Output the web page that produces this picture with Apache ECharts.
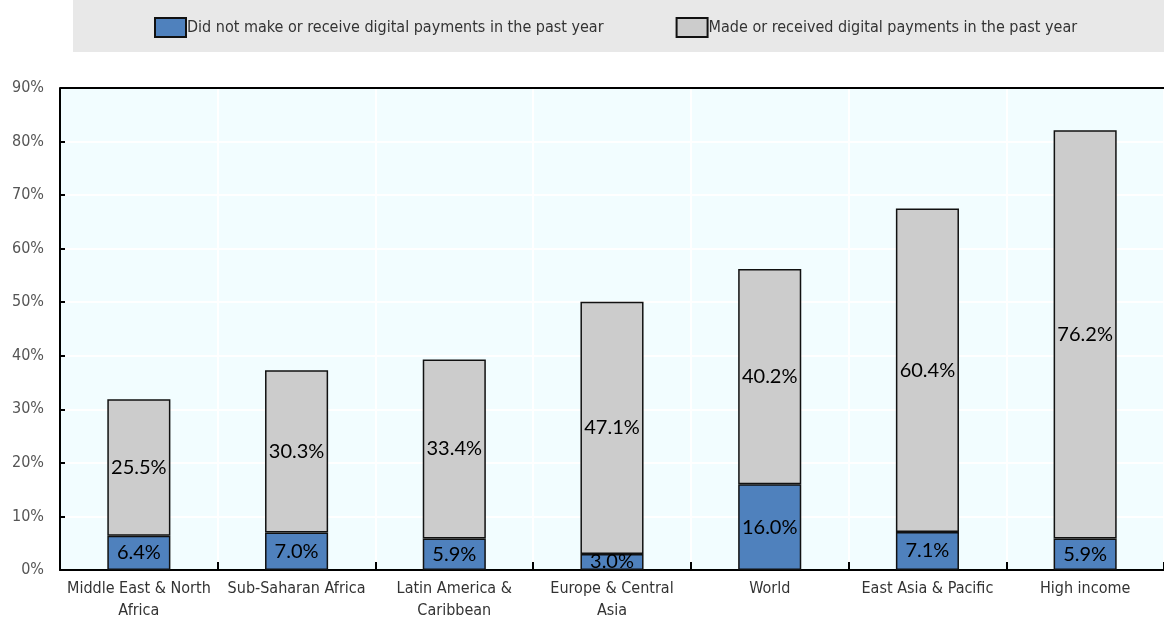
<!DOCTYPE html>
<html>
<head>
<meta charset="utf-8">
<script src="https://cdn.jsdelivr.net/npm/echarts@6/dist/echarts.min.js"></script>
<style>
  html, body { margin: 0; padding: 0; background: #ffffff; }
  #chart { width: 1164px; height: 622px; }
</style>
</head>
<body>
<div id="chart"></div>
<script>
// Regions (x-axis categories)
const regions = [
  'Middle East & North\nAfrica',
  'Sub-Saharan Africa',
  'Latin America &\nCaribbean',
  'Europe & Central\nAsia',
  'World',
  'East Asia & Pacific',
  'High income'
];

// Share of adults (%), stacked
const noDigitalPayments = [6.4, 7.0, 5.9, 3.0, 16.0, 7.1, 5.9];
const digitalPayments = [25.5, 30.3, 33.4, 47.1, 40.2, 60.4, 76.2];

const seriesNames = [
  'Did not make or receive digital payments in the past year',
  'Made or received digital payments in the past year'
];

const narrow = "'Liberation Sans Narrow', 'Arial Narrow', 'DejaVu Sans Condensed', sans-serif";
const labelFont = "Lato, 'Open Sans', sans-serif";

const chart = echarts.init(document.getElementById('chart'), null, { renderer: 'canvas' });

const barLabel = {
  show: true,
  position: 'inside',
  formatter: p => p.value.toFixed(1) + '%',
  fontFamily: labelFont,
  fontSize: 20,
  color: '#000000'
};

chart.setOption({
  animation: false,
  legend: {
    top: 17,
    left: 154,
    padding: 0,
    itemWidth: 31,
    itemHeight: 19,
    itemGap: 72,
    icon: 'rect',
    textStyle: { fontFamily: narrow, fontSize: 16, color: '#333333', padding: [0, 0, 0, -4] },
    data: seriesNames
  },
  grid: {
    left: 60, right: 0, top: 88, bottom: 49,
    show: true,
    backgroundColor: '#F2FDFF',
    borderWidth: 0
  },
  xAxis: {
    type: 'category',
    data: regions,
    axisLine: { show: true, lineStyle: { color: '#000000', width: 2 } },
    axisTick: { show: true, inside: true, interval: 0, length: 8, lineStyle: { color: '#000000', width: 2 } },
    splitLine: { show: true, interval: 0, lineStyle: { color: '#ffffff', width: 2 } },
    axisLabel: {
      interval: 0,
      fontFamily: narrow, fontSize: 16, color: '#333333', margin: 8, lineHeight: 22
    }
  },
  yAxis: {
    type: 'value',
    min: 0, max: 90, interval: 10,
    axisLine: { show: true, lineStyle: { color: '#000000', width: 2 } },
    axisTick: { show: true, inside: true, length: 5, lineStyle: { color: '#000000', width: 2 } },
    splitLine: { show: true, lineStyle: { color: '#ffffff', width: 2 } },
    axisLabel: {
      formatter: '{value}%',
      fontFamily: narrow, fontSize: 16, color: '#555555', margin: 16
    }
  },
  series: [
    {
      name: seriesNames[0],
      type: 'bar',
      stack: 'total',
      barWidth: '40%',
      data: noDigitalPayments,
      itemStyle: { color: '#4F81BD', borderColor: '#111111', borderWidth: 1.5 },
      label: barLabel
    },
    {
      name: seriesNames[1],
      type: 'bar',
      stack: 'total',
      barWidth: '40%',
      data: digitalPayments,
      itemStyle: { color: '#CCCCCC', borderColor: '#111111', borderWidth: 1.5 },
      label: barLabel
    }
  ]
});

// Legend band and the top border of the plot area
const topY = chart.convertToPixel({ yAxisIndex: 0 }, 90);
chart.setOption({
  graphic: [
    {
      type: 'rect',
      left: 73, top: 0,
      shape: { width: 1091, height: 52 },
      style: { fill: '#E8E8E8' },
      z: -1
    },
    {
      type: 'line',
      shape: { x1: 60, y1: topY, x2: 1164, y2: topY },
      style: { stroke: '#000000', lineWidth: 2 },
      z: 10
    }
  ]
});
</script>
</body>
</html>
